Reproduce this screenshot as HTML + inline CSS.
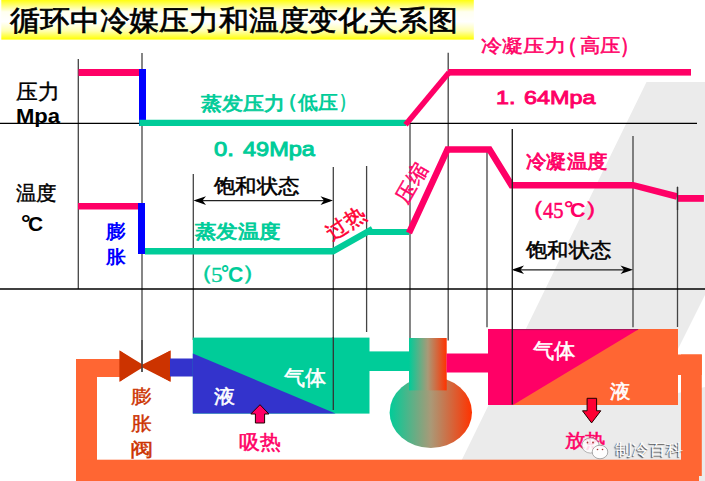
<!DOCTYPE html>
<html><head><meta charset="utf-8">
<style>
html,body{margin:0;padding:0;background:#fff;}
body{width:705px;height:481px;overflow:hidden;position:relative;font-family:"Liberation Sans",sans-serif;}
svg{position:absolute;left:0;top:0;}
.t{position:absolute;white-space:nowrap;line-height:1;transform-origin:0 0;}
</style></head><body>
<svg width="705" height="481" viewBox="0 0 705 481">
<defs>
<linearGradient id="yel" x1="0" y1="0" x2="0" y2="1">
<stop offset="0" stop-color="#ffff10"/>
<stop offset="0.3" stop-color="#fffff0"/>
<stop offset="0.55" stop-color="#ffffff"/>
<stop offset="0.78" stop-color="#ffffb0"/>
<stop offset="1" stop-color="#ffff00"/>
</linearGradient>
<linearGradient id="comp" x1="0" y1="0" x2="1" y2="0">
<stop offset="0" stop-color="#00cc99"/>
<stop offset="0.5" stop-color="#aa9977"/>
<stop offset="1" stop-color="#ff3300"/>
</linearGradient>
</defs>
<!-- gray band -->
<polygon points="646.5,82 705,82 705,295 678,349 678,393 705,387 705,481 451.5,481" fill="#ebebeb"/>
<!-- title bar -->
<rect x="1.3" y="0" width="472.5" height="39.6" fill="url(#yel)"/>
<!-- grid -->
<g stroke="#444" stroke-width="1.3">
<line x1="78.3" y1="59" x2="78.3" y2="289"/>
<line x1="142" y1="53" x2="142" y2="372"/>
<line x1="193.3" y1="174" x2="193.3" y2="340"/>
<line x1="333.3" y1="167" x2="333.3" y2="410"/>
<line x1="366.6" y1="166" x2="366.6" y2="332"/>
<line x1="410" y1="124" x2="410" y2="340"/>
<line x1="448.2" y1="52.7" x2="448.2" y2="340.4"/>
<line x1="487" y1="152" x2="487" y2="327.3"/>
<line x1="633" y1="136" x2="633" y2="327.3"/>
<line x1="677.5" y1="186.8" x2="677.5" y2="327"/>
</g>
<line x1="0" y1="123.3" x2="697" y2="123.3" stroke="#000" stroke-width="1.3"/>
<line x1="0" y1="289.1" x2="705" y2="289.1" stroke="#000" stroke-width="1.5"/>
<!-- pressure curve -->
<rect x="78.5" y="69" width="63" height="7" fill="#ff0066"/>
<rect x="139" y="69" width="7" height="57" fill="#0000ff"/>
<polyline points="139.3,122.8 406,122.8" stroke="#00cc99" stroke-width="6.2" fill="none"/>
<line x1="405.5" y1="124.8" x2="449" y2="72.5" stroke="#ff0066" stroke-width="5.6"/>
<rect x="448" y="69" width="243" height="6.6" fill="#ff0066"/>
<!-- temperature curve -->
<rect x="78" y="203" width="64" height="6.5" fill="#ff0066"/>
<rect x="138" y="203" width="7" height="51" fill="#0000ff"/>
<polyline points="145,251.3 333,251.3 372.5,229" stroke="#00cc99" stroke-width="6.5" fill="none"/>
<polyline points="368,232 409,232" stroke="#00cc99" stroke-width="6" fill="none"/>
<polyline points="409,233 447.5,149.5 489.5,149.5 511.5,185.2 633,185.2 677,196.5" stroke="#ff0066" stroke-width="6.5" fill="none"/>
<rect x="677.5" y="195" width="26.4" height="6.8" fill="#ff0066"/>
<line x1="677.5" y1="186.8" x2="677.5" y2="210" stroke="#333" stroke-width="1.3"/>
<!-- double arrows -->
<g stroke="#222" stroke-width="1.2" fill="#000">
<line x1="196" y1="200.6" x2="330" y2="200.6"/>
<line x1="514" y1="269.8" x2="630" y2="269.8"/>
</g>
<g fill="#000">
<polygon points="193.5,200.6 206,196.3 202.5,200.6 206,204.9"/>
<polygon points="333,200.6 320.5,196.3 324,200.6 320.5,204.9"/>
<polygon points="511.6,269.8 524,265.5 520.5,269.8 524,274.1"/>
<polygon points="633,269.8 620.5,265.5 624,269.8 620.5,274.1"/>
</g>
<!-- orange loop -->
<g fill="#ff6633">
<rect x="76" y="359" width="21" height="122"/>
<rect x="76" y="359" width="45" height="18"/>
<rect x="76" y="459.7" width="623" height="22"/>
<rect x="681" y="354.5" width="20.8" height="121.5"/>
<rect x="677" y="354.5" width="24.8" height="20.5"/>
</g>
<!-- valve -->
<polygon points="119.6,350.4 119.6,381.8 142.2,366 170.5,350.4 170.5,381.8 142.2,366" fill="#cc3300"/>
<polygon points="119.6,350.4 119.6,381.8 145,366" fill="#cc3300"/>
<polygon points="170.5,350.4 170.5,381.8 139.5,366" fill="#cc3300"/>
<line x1="142" y1="340" x2="142" y2="372" stroke="#444" stroke-width="1.3"/>
<!-- blue pipe -->
<rect x="170" y="358.5" width="23" height="18" fill="#3333cc"/>
<!-- evaporator -->
<rect x="192.8" y="337.6" width="176.7" height="76" fill="#00cc99"/>
<polygon points="192.8,353.5 335.5,413.6 192.8,413.6" fill="#3333cc"/>
<line x1="333.3" y1="337" x2="333.3" y2="410" stroke="#333" stroke-width="1.3"/>
<!-- green pipe -->
<rect x="369" y="351.4" width="41" height="19.6" fill="#00cc99"/>
<!-- compressor -->
<ellipse cx="430.8" cy="412.4" rx="41.2" ry="35.6" fill="url(#comp)"/>
<rect x="409" y="338" width="37.7" height="52.4" fill="url(#comp)"/>
<!-- pink pipe -->
<rect x="446.5" y="353.5" width="42" height="19" fill="#ff0066"/>
<!-- condenser -->
<rect x="488" y="329" width="190" height="76" fill="#ff6633"/>
<polygon points="488,329 639,329 513,405 488,405" fill="#ff0066"/>
<line x1="512.3" y1="129" x2="512.3" y2="404.5" stroke="#222" stroke-width="1.4"/>
<line x1="513" y1="329.6" x2="638" y2="329.6" stroke="#8a1a55" stroke-width="0.8"/>
<!-- up arrow -->
<polygon points="260,404.7 268.9,414 264.6,414 264.6,423 255.4,423 255.4,414 250.8,414" fill="#ff0066" stroke="#220000" stroke-width="1"/>
<!-- down arrow -->
<polygon points="587.1,398.3 596.6,398.3 596.6,410.8 600.8,410.8 591.6,422.9 582.5,410.8 587.1,410.8" fill="#ff0033" stroke="#220000" stroke-width="1"/>
</svg>
<div class="t" style="left:10.0px;top:6.0px;font-size:28.29px;font-family:'Liberation Sans',sans-serif;color:#000;-webkit-text-stroke:0.7px #000;transform:scaleX(1.066);">循环中冷媒压力和温度变化关系图</div>
<div class="t" style="left:16.3px;top:82.3px;font-size:20.82px;font-family:'Liberation Sans',sans-serif;color:#000;-webkit-text-stroke:0.4px #000;transform:scaleX(1.035);">压力</div>
<div class="t" style="left:16.1px;top:105.7px;font-size:20.08px;font-family:'Liberation Sans',sans-serif;font-weight:bold;color:#000;transform:scaleX(1.098);">Mpa</div>
<div class="t" style="left:16.0px;top:183.4px;font-size:20.39px;font-family:'Liberation Sans',sans-serif;color:#000;-webkit-text-stroke:0.4px #000;transform:scaleX(1.021);">温度</div>
<div class="t" style="left:21.3px;top:213.1px;font-size:22.06px;font-family:'Liberation Sans',sans-serif;font-weight:bold;color:#000;transform:scaleX(1.095);">°</div>
<div class="t" style="left:28.1px;top:213.0px;font-size:21.01px;font-family:'Liberation Sans',sans-serif;font-weight:bold;color:#000;transform:scaleX(0.996);">C</div>
<div class="t" style="left:200.7px;top:93.7px;font-size:19.22px;font-family:'Liberation Sans',sans-serif;color:#00cc99;-webkit-text-stroke:0.8px #00cc99;transform:scaleX(1.1);">蒸发压力</div>
<div class="t" style="left:276.9px;top:91.2px;font-size:20.03px;font-family:'Liberation Sans',sans-serif;color:#00cc99;-webkit-text-stroke:0.8px #00cc99;transform:scaleX(1.051);">（</div>
<div class="t" style="left:297.8px;top:94.2px;font-size:18.76px;font-family:'Liberation Sans',sans-serif;font-weight:bold;color:#00cc99;transform:scaleX(1.046);">低压</div>
<div class="t" style="left:338.9px;top:91.2px;font-size:20.03px;font-family:'Liberation Sans',sans-serif;color:#00cc99;-webkit-text-stroke:0.8px #00cc99;transform:scaleX(0.799);">）</div>
<div class="t" style="left:213.9px;top:139.8px;font-size:19.53px;font-family:'Liberation Sans',sans-serif;color:#00cc99;-webkit-text-stroke:0.9px #00cc99;transform:scaleX(1.217);">0.</div>
<div class="t" style="left:242.8px;top:139.8px;font-size:19.6px;font-family:'Liberation Sans',sans-serif;color:#00cc99;-webkit-text-stroke:0.9px #00cc99;transform:scaleX(1.201);">49Mpa</div>
<div class="t" style="left:481.4px;top:36.8px;font-size:18.42px;font-family:'Liberation Sans',sans-serif;color:#ff0066;-webkit-text-stroke:0.5px #ff0066;transform:scaleX(1.179);">冷凝压力</div>
<div class="t" style="left:557.4px;top:34.8px;font-size:21.56px;font-family:'Liberation Sans',sans-serif;color:#ff0066;-webkit-text-stroke:0.8px #ff0066;transform:scaleX(0.943);">（</div>
<div class="t" style="left:579.7px;top:36.2px;font-size:19.22px;font-family:'Liberation Sans',sans-serif;color:#ff0066;-webkit-text-stroke:0.5px #ff0066;transform:scaleX(1.07);">高压</div>
<div class="t" style="left:619.5px;top:34.8px;font-size:21.56px;font-family:'Liberation Sans',sans-serif;color:#ff0066;-webkit-text-stroke:0.8px #ff0066;transform:scaleX(0.837);">）</div>
<div class="t" style="left:495.6px;top:89.0px;font-size:18.75px;font-family:'Liberation Sans',sans-serif;color:#ff0066;-webkit-text-stroke:0.9px #ff0066;transform:scaleX(1.24);">1.</div>
<div class="t" style="left:523.5px;top:88.0px;font-size:19.22px;font-family:'Liberation Sans',sans-serif;color:#ff0066;-webkit-text-stroke:0.9px #ff0066;transform:scaleX(1.219);">64Mpa</div>
<div class="t" style="left:214.2px;top:176.4px;font-size:20.22px;font-family:'Liberation Sans',sans-serif;color:#000;-webkit-text-stroke:0.5px #000;transform:scaleX(1.072);">饱和状态</div>
<div class="t" style="left:195.0px;top:222.4px;font-size:19.21px;font-family:'Liberation Sans',sans-serif;color:#00cc99;-webkit-text-stroke:0.9px #00cc99;transform:scaleX(1.126);">蒸发温度</div>
<div class="t" style="left:187.2px;top:263.0px;font-size:20.91px;font-family:'Liberation Sans',sans-serif;color:#00cc99;-webkit-text-stroke:0.4px #00cc99;transform:scaleX(1.289);">（</div>
<div class="t" style="left:210.5px;top:264.7px;font-size:20.58px;font-family:'Liberation Serif',serif;color:#00cc99;-webkit-text-stroke:0.3px #00cc99;transform:scaleX(1.132);">5</div>
<div class="t" style="left:220.8px;top:264.4px;font-size:21.37px;font-family:'Liberation Sans',sans-serif;font-weight:bold;color:#00cc99;transform:scaleX(0.947);">°</div>
<div class="t" style="left:227.7px;top:264.3px;font-size:22.35px;font-family:'Liberation Sans',sans-serif;font-weight:bold;color:#00cc99;transform:scaleX(0.952);">C</div>
<div class="t" style="left:240.8px;top:263.0px;font-size:20.91px;font-family:'Liberation Sans',sans-serif;color:#00cc99;-webkit-text-stroke:0.4px #00cc99;transform:scaleX(1.314);">）</div>
<div class="t" style="left:105.9px;top:221.6px;font-size:19.4px;font-family:'Liberation Sans',sans-serif;font-weight:bold;color:#0000ff;transform:scaleX(1.031);">膨</div>
<div class="t" style="left:105.9px;top:247.6px;font-size:18.22px;font-family:'Liberation Sans',sans-serif;font-weight:bold;color:#0000ff;transform:scaleX(1.091);">胀</div>
<div class="t" style="left:526.3px;top:152.3px;font-size:19.03px;font-family:'Liberation Sans',sans-serif;color:#ff0066;-webkit-text-stroke:0.8px #ff0066;transform:scaleX(1.074);">冷凝温度</div>
<div class="t" style="left:516.2px;top:197.8px;font-size:22.01px;font-family:'Liberation Sans',sans-serif;color:#ff0066;-webkit-text-stroke:0.4px #ff0066;transform:scaleX(1.379);">（</div>
<div class="t" style="left:542.9px;top:200.1px;font-size:22.35px;font-family:'Liberation Serif',serif;color:#ff0066;-webkit-text-stroke:0.5px #ff0066;transform:scaleX(0.922);">45</div>
<div class="t" style="left:563.8px;top:197.6px;font-size:20.84px;font-family:'Liberation Sans',sans-serif;font-weight:bold;color:#ff0066;transform:scaleX(1.13);">°</div>
<div class="t" style="left:570.0px;top:199.0px;font-size:21.01px;font-family:'Liberation Sans',sans-serif;font-weight:bold;color:#ff0066;transform:scaleX(1.025);">C</div>
<div class="t" style="left:582.9px;top:199.1px;font-size:20.91px;font-family:'Liberation Sans',sans-serif;color:#ff0066;-webkit-text-stroke:0.4px #ff0066;transform:scaleX(1.434);">）</div>
<div class="t" style="left:526.4px;top:240.8px;font-size:19.6px;font-family:'Liberation Sans',sans-serif;color:#000;-webkit-text-stroke:0.5px #000;transform:scaleX(1.066);">饱和状态</div>
<div class="t" style="left:130.9px;top:387.4px;font-size:19.4px;font-family:'Liberation Sans',sans-serif;color:#cc3300;-webkit-text-stroke:0.4px #cc3300;transform:scaleX(1.084);">膨</div>
<div class="t" style="left:130.9px;top:413.5px;font-size:19.4px;font-family:'Liberation Sans',sans-serif;color:#cc3300;-webkit-text-stroke:0.4px #cc3300;transform:scaleX(1.084);">胀</div>
<div class="t" style="left:129.9px;top:440.1px;font-size:18.98px;font-family:'Liberation Sans',sans-serif;color:#cc3300;-webkit-text-stroke:0.4px #cc3300;transform:scaleX(1.231);">阀</div>
<div class="t" style="left:213.9px;top:388.3px;font-size:18.82px;font-family:'Liberation Sans',sans-serif;color:#fff;-webkit-text-stroke:0.5px #fff;transform:scaleX(1.108);">液</div>
<div class="t" style="left:284.3px;top:368.3px;font-size:20.86px;font-family:'Liberation Sans',sans-serif;color:#fff;-webkit-text-stroke:0.5px #fff;transform:scaleX(1.008);">气体</div>
<div class="t" style="left:239.0px;top:432.8px;font-size:19.81px;font-family:'Liberation Sans',sans-serif;color:#ff0066;-webkit-text-stroke:0.5px #ff0066;transform:scaleX(1.046);">吸热</div>
<div class="t" style="left:532.8px;top:341.2px;font-size:20.63px;font-family:'Liberation Sans',sans-serif;color:#fff;-webkit-text-stroke:0.5px #fff;transform:scaleX(1.018);">气体</div>
<div class="t" style="left:609.5px;top:381.5px;font-size:19.22px;font-family:'Liberation Sans',sans-serif;color:#fff;-webkit-text-stroke:0.5px #fff;transform:scaleX(1.076);">液</div>
<div class="t" style="left:564.6px;top:432.4px;font-size:18.87px;font-family:'Liberation Sans',sans-serif;color:#ff0066;-webkit-text-stroke:0.5px #ff0066;transform:scaleX(1.072);">放热</div>
<div class="t" style="left:614.8px;top:441.0px;font-size:16.24px;font-family:'Liberation Sans',sans-serif;color:#fff;text-shadow:-1px 1px 1px rgba(0,0,0,0.75);transform:scaleX(1.07);">制冷百科</div>
<div class="t" style="left:345.5px;top:223.2px;font-size:21px;color:#ff0033;-webkit-text-stroke:0.5px #ff0033;transform:translate(-50%,-50%) rotate(-33deg);transform-origin:50% 50%;">过热</div>
<div class="t" style="left:412px;top:183px;font-size:20.5px;color:#ff0066;-webkit-text-stroke:0.5px #ff0066;transform:translate(-50%,-50%) rotate(-60deg);transform-origin:50% 50%;">压缩</div>
<svg width="705" height="481" style="position:absolute;left:0;top:0">
<ellipse cx="590.5" cy="445.5" rx="8.6" ry="7.6" fill="#fff" fill-opacity="0.85" stroke="#888" stroke-width="0.6"/>
<ellipse cx="600" cy="452" rx="7.8" ry="6.8" fill="#fff" fill-opacity="0.95" stroke="#777" stroke-width="0.6"/>
<circle cx="587.5" cy="442.5" r="0.9" fill="#a33"/><circle cx="593" cy="442.5" r="0.9" fill="#a33"/>
<circle cx="597.5" cy="449.5" r="0.8" fill="#a33"/><circle cx="602.5" cy="449.5" r="0.8" fill="#a33"/>
</svg>

</body></html>
